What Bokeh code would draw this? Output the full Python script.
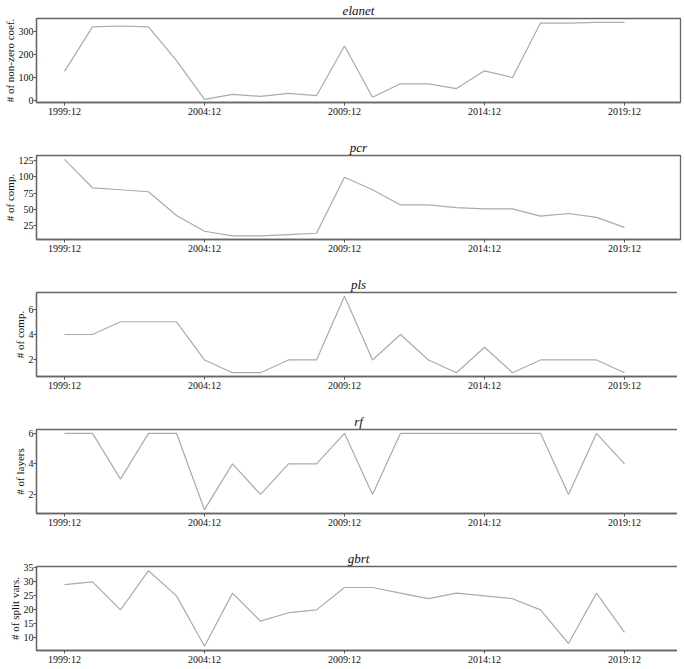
from bokeh.plotting import figure
from bokeh.layouts import column
from bokeh.models import Range1d, FixedTicker
from bokeh.embed import file_html
from bokeh.resources import INLINE

years = list(range(1999, 2020))
x_ticks = [1999, 2004, 2009, 2014, 2019]
x_tick_labels = ["1999:12", "2004:12", "2009:12", "2014:12", "2019:12"]

elanet = [127, 322, 326, 322, 174, 4, 26, 17, 30, 20, 238, 13, 72, 72, 51, 129, 100, 339, 339, 342, 342]
pcr = [126, 83, 80, 77, 41, 17, 10, 10, 12, 14, 99, 80, 57, 57, 53, 51, 51, 40, 44, 38, 23]
pls = [4, 4, 5, 5, 5, 2, 1, 1, 2, 2, 7, 2, 4, 2, 1, 3, 1, 2, 2, 2, 1]
rf = [6, 6, 3, 6, 6, 1, 4, 2, 4, 4, 6, 2, 6, 6, 6, 6, 6, 6, 2, 6, 4]
gbrt = [29, 30, 20, 34, 25, 7, 26, 16, 19, 20, 28, 28, 26, 24, 26, 25, 24, 20, 8, 26, 12]

panels = [
    ("elanet", "# of non-zero coef.", elanet, (-10, 359), [0, 100, 200, 300]),
    ("pcr", "# of comp.", pcr, (4.5, 132), [25, 50, 75, 100, 125]),
    ("pls", "# of comp.", pls, (0.7, 7.3), [2, 4, 6]),
    ("rf", "# of layers", rf, (0.75, 6.25), [2, 4, 6]),
    ("gbrt", "# of split vars.", gbrt, (5.5, 35.5), [10, 15, 20, 25, 30, 35]),
]

SERIF = "Liberation Serif"
LEFT = 31
figs = []
for i, (name, ylab, vals, yr, yt) in enumerate(panels):
    p = figure(output_backend="svg", toolbar_location=None,
               frame_width=675 - LEFT, frame_height=84,
               x_range=Range1d(1998, 2021), y_range=Range1d(*yr),
               min_border_left=LEFT, min_border_right=2,
               min_border_top=(0 if i == 0 else 36), min_border_bottom=17,
               title=name)
    p.title.text_font = SERIF
    p.title.text_font_style = "italic"
    p.title.text_font_size = "13px"
    p.title.align = "center"
    p.title.standoff = 1
    p.title.text_color = "#111111"
    p.line(years, vals, line_color="#ababab", line_width=1.2)
    p.xgrid.visible = False
    p.ygrid.visible = False
    p.outline_line_color = "#666666"
    p.outline_line_width = 1.3
    p.background_fill_color = "white"
    p.border_fill_color = "white"
    p.xaxis.ticker = FixedTicker(ticks=x_ticks)
    p.xaxis.major_label_overrides = {t: l for t, l in zip(x_ticks, x_tick_labels)}
    p.yaxis.ticker = FixedTicker(ticks=yt)
    p.yaxis.axis_label = ylab
    for ax in (p.xaxis, p.yaxis):
        ax.axis_line_color = "#666666"
        ax.axis_line_width = 1.3
        ax.major_tick_line_color = "#555555"
        ax.major_tick_out = 3
        ax.major_tick_in = 0
        ax.minor_tick_out = 0
        ax.minor_tick_in = 0
        ax.major_label_text_font = SERIF
        ax.major_label_text_font_size = "10px"
        ax.major_label_text_color = "#111111"
        ax.major_label_standoff = 0
        ax.axis_label_text_font = SERIF
        ax.axis_label_text_font_size = "11px"
        ax.axis_label_text_font_style = "normal"
        ax.axis_label_text_color = "#111111"
        ax.axis_label_standoff = 0
    figs.append(p)

layout = column(*figs, spacing=0)
open("out.html", "w").write(file_html(layout, INLINE))
